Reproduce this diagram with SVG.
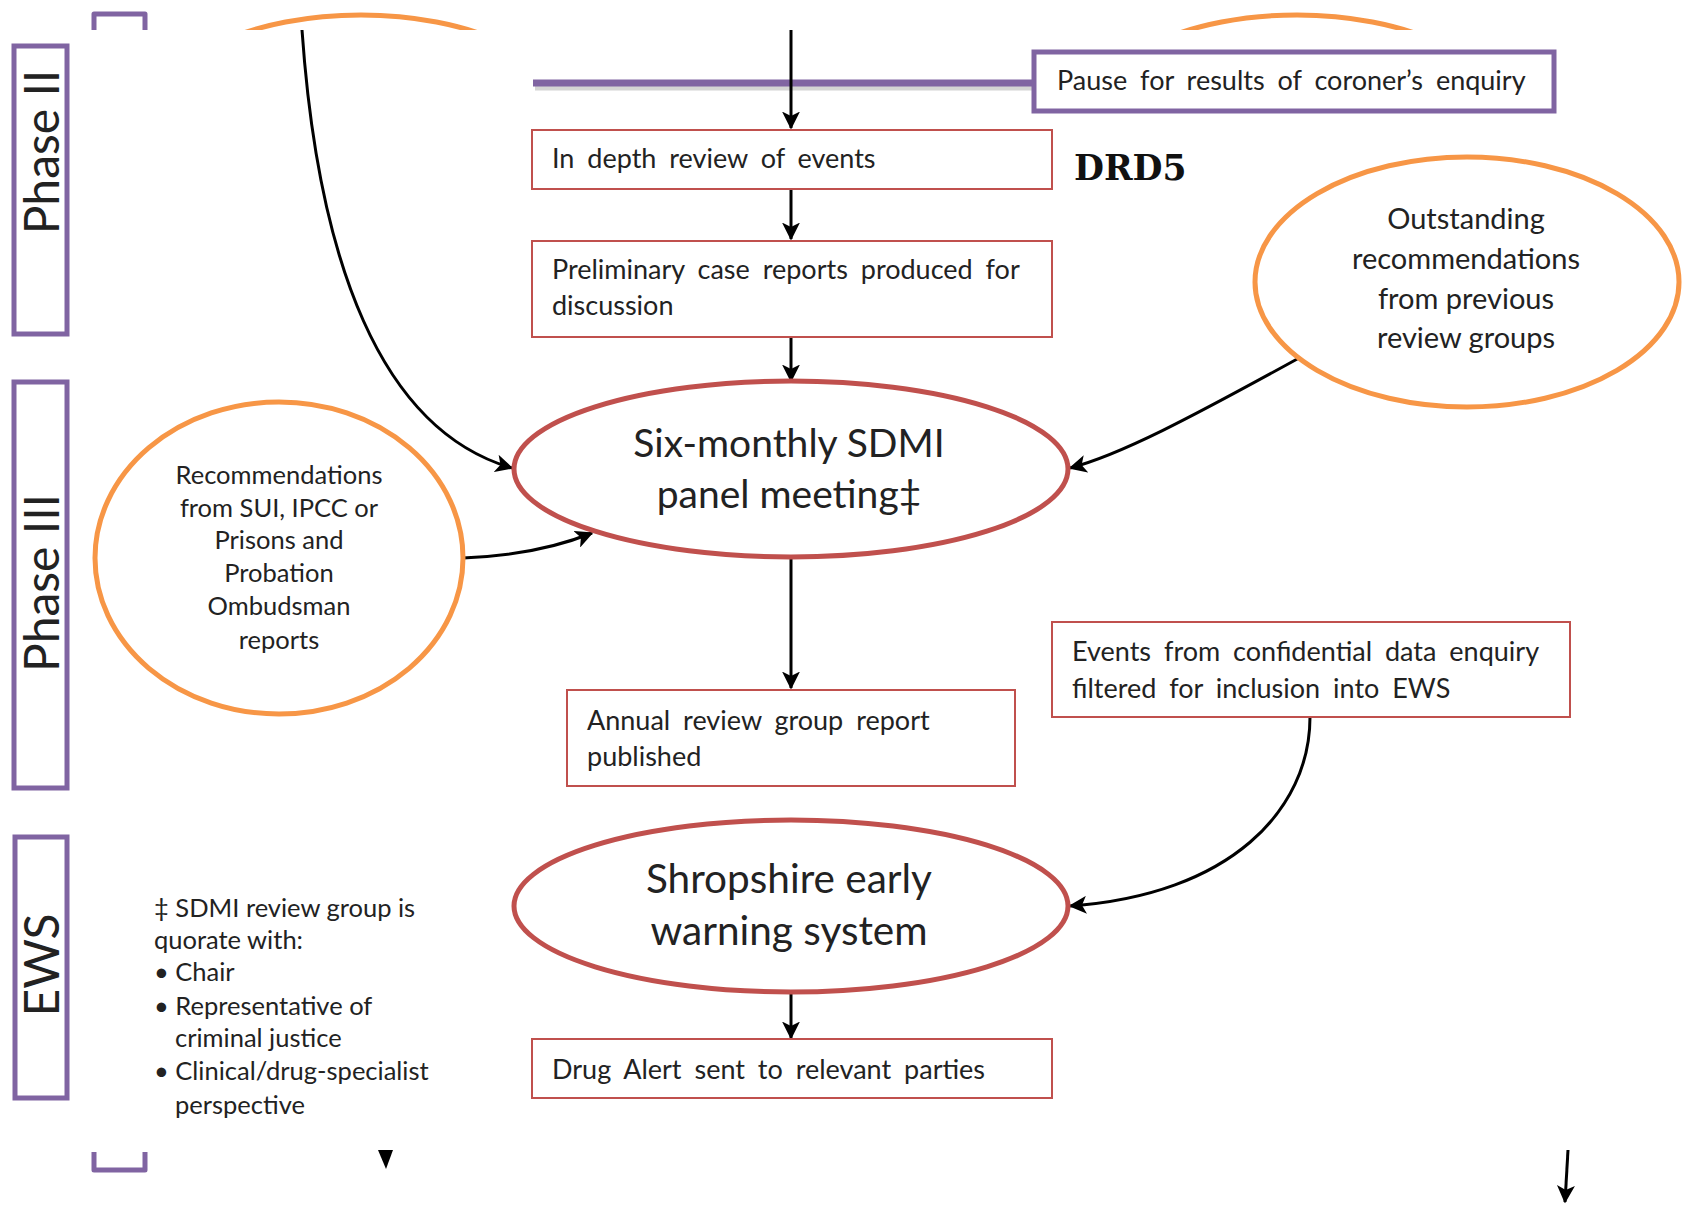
<svg xmlns="http://www.w3.org/2000/svg" width="1688" height="1206" viewBox="0 0 1688 1206">
<style>
  .box { fill: #fff; stroke: #C0504D; stroke-width: 2; }
  .phase { fill: #fff; stroke: #8064A2; stroke-width: 5; }
  .oval { fill: #fff; stroke: #C0504D; stroke-width: 5; }
  .circ { fill: #fff; stroke: #F79646; stroke-width: 5; }
  .t { font-family: Lato, "Open Sans", sans-serif; fill: #222; }
  .bt { font-size: 27px; word-spacing: 6px; }
  .ct { text-anchor: middle; }
  .big { font-size: 39px; text-anchor: middle; }
  .ph { font-size: 48px; text-anchor: middle; }
  .conn { fill: none; stroke: #000; stroke-width: 3; }
</style>
<defs>
  <marker id="ah" viewBox="0 0 12 12" refX="11" refY="6" markerWidth="6" markerHeight="6" orient="auto" markerUnits="strokeWidth">
    <path d="M0,0 L12,6 L0,12 L3,6 z" fill="#000"/>
  </marker>
  <clipPath id="topclip"><rect x="0" y="0" width="1688" height="30"/></clipPath>
</defs>
<rect width="1688" height="1206" fill="#fff"/>

<g id="top-fragments" clip-path="url(#topclip)">
  <path d="M94,34 V14 H145 V34" fill="none" stroke="#8064A2" stroke-width="5" stroke-linejoin="round"/>
  <ellipse cx="361" cy="115" rx="205" ry="100" class="circ"/>
  <ellipse cx="1297" cy="115" rx="205" ry="100" class="circ"/>
</g>
<g id="bottom-bracket">
  <path d="M94,1152 V1170 H145 V1152" fill="none" stroke="#8064A2" stroke-width="5" stroke-linejoin="round"/>
</g>

<g id="phase2"><rect x="14" y="46" width="53" height="288" class="phase"/>
  <text class="t ph" transform="translate(59,152) rotate(-90)">Phase II</text></g>
<g id="phase3"><rect x="14" y="382" width="53" height="406" class="phase"/>
  <text class="t ph" transform="translate(59,583) rotate(-90)">Phase III</text></g>
<g id="ews"><rect x="15" y="837" width="52" height="261" class="phase"/>
  <text class="t ph" transform="translate(59,965) rotate(-90)">EWS</text></g>

<g id="pause-line">
  <line x1="535" y1="88" x2="1033" y2="88" stroke="#aaa" stroke-width="5" opacity="0.5"/>
  <line x1="533" y1="83" x2="1033" y2="83" stroke="#8064A2" stroke-width="7"/>
</g>

<g id="connectors">
  <line class="conn" x1="791" y1="30" x2="791" y2="128" marker-end="url(#ah)"/>
  <line class="conn" x1="791" y1="189" x2="791" y2="239" marker-end="url(#ah)"/>
  <line class="conn" x1="791" y1="337" x2="791" y2="381" marker-end="url(#ah)"/>
  <line class="conn" x1="791" y1="558" x2="791" y2="688" marker-end="url(#ah)"/>
  <line class="conn" x1="791" y1="994" x2="791" y2="1038" marker-end="url(#ah)"/>
  <path class="conn" d="M302,30 C318,260 380,430 512,468" marker-end="url(#ah)"/>
  <path class="conn" d="M463,558 C515,556 555,548 592,533" marker-end="url(#ah)"/>
  <path class="conn" d="M1299,358 C1190,418 1120,455 1070,468" marker-end="url(#ah)"/>
  <path class="conn" d="M1310,717 C1310,810 1230,895 1070,906" marker-end="url(#ah)"/>
  <line class="conn" x1="1568" y1="1150" x2="1565" y2="1202" marker-end="url(#ah)"/>
  <path d="M378,1150 L393,1150 L386,1169 z" fill="#000"/>
</g>

<g id="pause"><rect x="1034" y="52" width="520" height="59" fill="#fff" stroke="#8064A2" stroke-width="5"/>
  <text class="t bt" x="1057" y="90">Pause for results of coroner’s enquiry</text></g>

<g id="indepth"><rect x="532" y="130" width="520" height="59" class="box"/>
  <text class="t bt" x="552" y="168">In depth review of events</text></g>

<g id="drd5"><text x="1074" y="180" font-family="'DejaVu Serif', serif" font-weight="bold" font-size="34.5" fill="#111">DRD5</text></g>

<g id="prelim"><rect x="532" y="241" width="520" height="96" class="box"/>
  <text class="t bt" x="552" y="279">Preliminary case reports produced for</text>
  <text class="t bt" x="552" y="315">discussion</text></g>

<g id="outstanding" class="t ct" font-size="29"><ellipse cx="1467" cy="282" rx="212" ry="125" class="circ"/>
  <text x="1466" y="229">Outstanding</text>
  <text x="1466" y="269">recommendations</text>
  <text x="1466" y="309">from previous</text>
  <text x="1466" y="348">review groups</text></g>

<g id="sixmonthly"><ellipse cx="791" cy="469" rx="277" ry="88" class="oval"/>
  <text class="t big" x="789" y="457">Six-monthly SDMI</text>
  <text class="t big" x="789" y="508">panel meeting‡</text></g>

<g id="recs" class="t ct" font-size="25.5"><ellipse cx="279" cy="558" rx="184" ry="156" class="circ"/>
  <text x="279" y="484">Recommendations</text>
  <text x="279" y="517">from SUI, IPCC or</text>
  <text x="279" y="549">Prisons and</text>
  <text x="279" y="582">Probation</text>
  <text x="279" y="615">Ombudsman</text>
  <text x="279" y="649">reports</text></g>

<g id="annual"><rect x="567" y="690" width="448" height="96" class="box"/>
  <text class="t bt" x="587" y="730">Annual review group report</text>
  <text class="t bt" x="587" y="766">published</text></g>

<g id="events"><rect x="1052" y="622" width="518" height="95" class="box"/>
  <text class="t bt" x="1072" y="661">Events from confidential data enquiry</text>
  <text class="t bt" x="1072" y="698">filtered for inclusion into EWS</text></g>

<g id="shropshire"><ellipse cx="791" cy="906" rx="277" ry="86" class="oval"/>
  <text class="t big" x="789" y="893" style="font-size:40.5px">Shropshire early</text>
  <text class="t big" x="789" y="945" style="font-size:40.5px">warning system</text></g>

<g id="drugalert"><rect x="532" y="1039" width="520" height="59" class="box"/>
  <text class="t bt" x="552" y="1079">Drug Alert sent to relevant parties</text></g>

<g id="footnote" class="t" font-size="25.5">
  <text x="154" y="917">‡  SDMI review group is</text>
  <text x="154" y="949">quorate with:</text>
  <text x="154" y="981">•  Chair</text>
  <text x="154" y="1015">•  Representative of</text>
  <text x="175" y="1047">criminal justice</text>
  <text x="154" y="1080">•  Clinical/drug-specialist</text>
  <text x="175" y="1114">perspective</text>
</g>
</svg>
